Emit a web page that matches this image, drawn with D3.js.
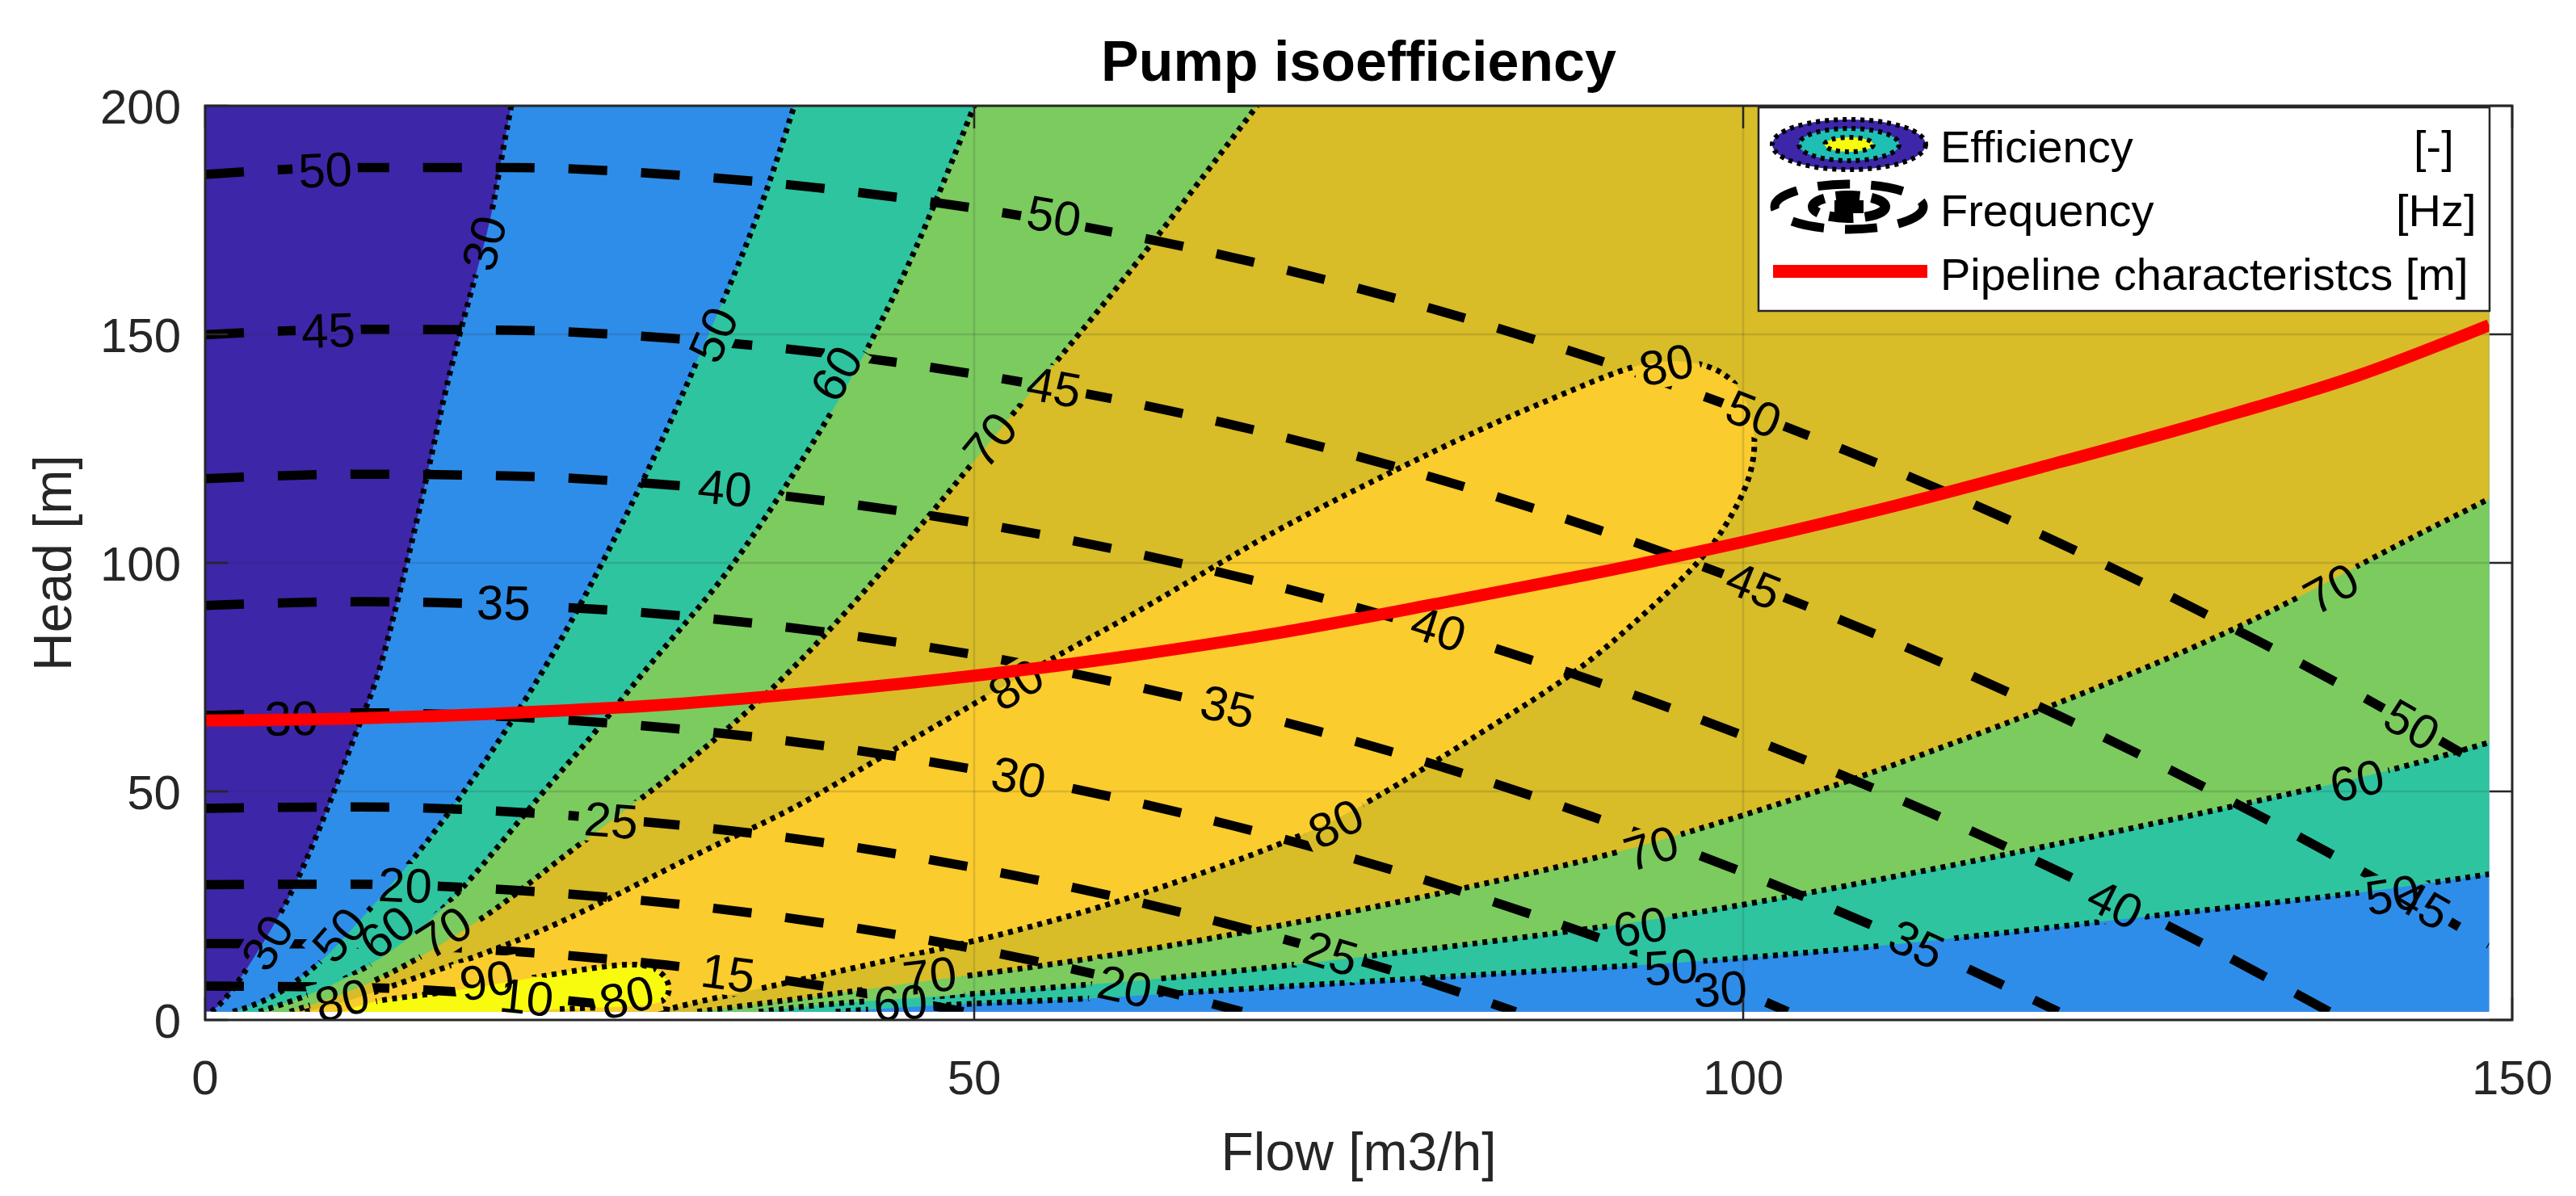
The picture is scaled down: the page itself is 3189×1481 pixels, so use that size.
<!DOCTYPE html>
<html>
<head>
<meta charset="utf-8">
<script src="https://cdn.jsdelivr.net/npm/d3@7"></script>
<style>
  body { margin: 0; background: #fff; }
  svg text { font-family: "Liberation Sans", Arial, Helvetica, sans-serif; }
</style>
</head>
<body>
<div id="chart"></div>
<script>
// ---- Datos: [caudal m3/h, altura m] ----

// Curvas de frecuencia (Hz)
const hz50 = [[0,185],[10,186.5],[20,186.5],[30,185],[40,182],[50,177.6],[60,171.7],[70,164.3],[80,155.4],[90,145],[100,133.3],[110,120],[120,105.2],[130,88.9],[140,71.2],[148.5,54.9]];
const hz45 = [[0,149.9],[10,151.1],[20,150.9],[30,149.2],[40,146],[50,141.3],[60,135.2],[70,127.6],[80,118.5],[90,107.9],[100,95.9],[110,82.4],[120,67.4],[130,50.9],[140,33],[148.5,16.5]];
const hz40 = [[0,118.4],[10,119.4],[20,119],[30,117.1],[40,113.7],[50,108.8],[60,102.4],[70,94.6],[80,85.3],[90,74.5],[100,62.2],[110,48.5],[120,33.3],[130,16.5],[138.1,1.8]];
const hz35 = [[0,90.7],[10,91.5],[20,90.8],[30,88.7],[40,85],[50,79.9],[60,73.3],[70,65.3],[80,55.8],[90,44.7],[100,32.3],[110,18.3],[120.5,1.8]];
const hz30 = [[0,66.6],[10,67.2],[20,66.3],[30,63.9],[40,60.1],[50,54.8],[60,48],[70,39.7],[80,29.9],[90,18.7],[100,6],[102.9,1.8]];
const hz25 = [[0,46.3],[10,46.6],[20,45.5],[30,42.9],[40,38.9],[50,33.3],[60,26.3],[70,17.8],[80,7.8],[85.2,1.8]];
const hz20 = [[0,29.6],[10,29.7],[20,28.4],[30,25.6],[40,21.3],[50,15.6],[60,8.3],[67.4,1.8]];
const hz15 = [[0,16.7],[10,16.6],[20,15],[30,12],[40,7.5],[49.3,1.8]];
const hz10 = [[0,7.4],[10,7.1],[20,5.3],[30.2,1.8]];

// Isolíneas de eficiencia (rama izquierda, de abajo hacia arriba)
const eff30L = [[0.4,1.8],[1.2,4],[2.4,9.5],[3.8,17],[5.45,26.4],[7,38.2],[8.4,50],[9.8,63],[11.2,74.2],[12.2,87.7],[13,98.2],[14.5,119.9],[15.5,136.1],[16.5,149.6],[17.6,163.1],[18.6,175.3],[19.2,187.5],[19.9,200]];
const eff50L = [[1.8,1.8],[4.1,4.1],[7.4,11.7],[10.5,23.5],[13.9,36.4],[17,50.6],[19.6,63.5],[22.3,78],[25,94.5],[27.7,112.5],[30.3,131],[32.6,149],[34.8,166],[36.7,183],[38.3,200]];
const eff60L = [[3.5,1.8],[6.5,5],[9.5,9.5],[12,14.7],[15,22.3],[18.3,34.7],[21.8,49.4],[25.3,62.5],[28.2,75],[31.4,87.5],[34.3,99],[38.5,120.5],[42.5,142.8],[45.5,163.1],[47.8,181.4],[50,200]];
const eff70L = [[5.5,1.8],[9,5.5],[13,11.5],[17.2,20.5],[19.4,25.3],[23.7,37],[28.8,49.4],[32.5,59.5],[36.2,70.1],[40,83],[43.6,96.5],[47.7,112.8],[51.7,129.3],[55.7,145.5],[59.7,161.8],[64.1,181],[68.3,199.6],[68.4,200]];
// Isolínea 80 (cerrada contra el fondo) y 90
const eff80 = [[6.5,1.8],[9.3,4],[13.3,8.8],[17.6,13.8],[22.7,20.5],[28,29.5],[33.8,39.4],[38,45.5],[43.9,57.5],[49.7,68.5],[54.7,78.5],[60,88],[65.5,99],[69.8,107.5],[76.5,118.9],[83.2,129.8],[88,136.5],[92.3,142.7],[95,144.6],[97.9,143.5],[99.9,138.8],[100.9,129.3],[100.6,119.2],[99.3,110.4],[97.4,100.5],[93.2,87.7],[89.3,76.1],[83.2,63.4],[75.5,47],[70.5,38.9],[61.1,27.6],[55,21.5],[50,17.2],[45,13.5],[40.1,9.8],[36,6.8],[32,4],[29.5,1.8]];
const eff90 = [[9,1.8],[10.7,4.1],[13.5,5.2],[16.3,6.4],[19,7.9],[21.6,9.4],[25,11.3],[28.1,12.6],[29.6,11],[30.3,7.5],[30,4],[28.5,2.9],[24,2.6],[20,1.8]];
// Isolíneas de eficiencia (rama derecha, desde el fondo hacia el borde derecho)
const eff70R = [[32,1.8],[36,3.5],[40,5.3],[44,7.2],[47,8.6],[50,9.8],[59.8,14.4],[69.8,20.5],[79.9,27.3],[91.6,36.1],[99.6,44.3],[107.3,52.6],[119.7,68],[132.5,85.7],[140.9,101.2],[148.5,114]];
const eff60R = [[36,1.8],[40,3.4],[45,4.6],[49.7,5.6],[57.6,7.8],[63.1,9.2],[76.5,14.2],[90,19.8],[99.6,24.7],[117.7,36.4],[132.5,47.2],[141.5,53.9],[148.5,60.7]];
const eff50R = [[41,1.8],[45,2.7],[49.7,3.6],[57.6,4.6],[63.1,5.9],[76.5,8.6],[93.3,12],[99.6,13.3],[113,17.4],[126.4,22.8],[139.9,27.5],[148.5,31.9]];

// Característica de la tubería
const pipeFlow = [0,10,20,30,40,50,60,70,80,90,100,110,120,130,140,148.5];
const pipeHead = [65.5,66,67.2,69,71.8,75.3,79.6,84.8,91,97.5,104.6,112.6,121.5,130.8,141,152];

// Ticks
const xTicks = [0,50,100,150];
const yTicks = [0,50,100,150,200];

// Etiquetas de las curvas: [frecuencia, caudal, altura]
const hzLabels = [
  [50,7.8,186.1],[50,55.2,176],[50,100.7,132.7],[50,143.5,64.7],
  [45,8,151],[45,55.2,138.6],[45,100.7,95.2],[45,144.2,25.5],
  [40,33.8,116.5],[40,80.2,85.7],[40,124.2,25.5],
  [35,19.4,91.4],[35,66.5,68.7],[35,111.3,16.7],
  [30,5.6,66.1],[30,52.9,53.2],
  [25,26.4,43.8],[25,73.2,14.7],
  [20,13,29.6],[20,59.8,7.5],
  [15,34,10.4],
  [10,20.9,5.1]
];
// Etiquetas de eficiencia: [texto, isolínea, caudal, altura]
const effLabels = [
  ["30","e30L",18.1,170],["50","e50L",33,150],["60","e60L",41,141.5],["70","e70L",51,127],
  ["80","e80",95,143.5],["80","e80",52.7,73.5],["80","e80",73.5,43.1],["80","e80",27.4,5.1],["80","e80",8.9,4.5],
  ["90","e90",18.3,8.8],
  ["30","e30L",4,17],["50","e50L",8.7,18.7],["60","e60L",11.8,19.3],["70","e70L",15.5,19.3],
  ["70","e70R",47.1,9.8],["60","e60R",45.2,3.9],
  ["70","e70R",94,37.7],["60","e60R",93.3,20.5],["50","e50R",95.3,11.7],["30","e50R",98.5,6.9],
  ["70","e70R",138.2,94.5],["60","e60R",139.9,52.5],["50","e50R",142.2,27.5]
];

// ---- Dibujo ----
const width = 3189, height = 1481;
const qMaxData = 148.5, hMinData = 1.8;

const svg = d3.select("#chart").append("svg")
    .attr("width", width)
    .attr("height", height);

const x = d3.scaleLinear().domain([0, 150]).range([254, 3110]);
const y = d3.scaleLinear().domain([0, 200]).range([1263, 131]);

const defs = svg.append("defs");
defs.append("clipPath").attr("id", "dataClip")
  .append("rect")
    .attr("x", x(0)).attr("y", y(200))
    .attr("width", x(qMaxData) - x(0))
    .attr("height", y(hMinData) - y(200));

const smooth = d3.line()
    .x(d => x(d[0])).y(d => y(d[1]))
    .curve(d3.curveBasis);

// Mapas de líneas
const effLines = { e30L: eff30L, e50L: eff50L, e60L: eff60L, e70L: eff70L, e80: eff80, e90: eff90, e70R: eff70R, e60R: eff60R, e50R: eff50R };
const hzLines = [[10,hz10],[15,hz15],[20,hz20],[25,hz25],[30,hz30],[35,hz35],[40,hz40],[45,hz45],[50,hz50]];

// Colores (parula)
const baseColor = "#3e26a8";
const levelColor = { 30: "#2e8de9", 50: "#2ec4a0", 60: "#7bcb5f", 70: "#d8bc28", 80: "#fbcc2d", 90: "#f9fb0e" };

function regionPath(left, right) {
  const first = left[0];
  let p = smooth(left);
  if (right) {
    const end = right[right.length - 1];
    p += `L${x(160)},${y(215)}L${x(160)},${y(end[1])}`;
    p += smooth(right.slice().reverse()).replace(/^M/, "L");
    p += `L${x(right[0][0])},${y(-10)}L${x(first[0])},${y(-10)}Z`;
  } else {
    p += `L${x(160)},${y(215)}L${x(160)},${y(-10)}L${x(first[0])},${y(-10)}Z`;
  }
  return p;
}
function loopPath(loop) {
  const a = loop[0], b = loop[loop.length - 1];
  return smooth(loop) + `L${x(b[0])},${y(-10)}L${x(a[0])},${y(-10)}Z`;
}

const regions = [
  { level: 30, d: regionPath(eff30L, null) },
  { level: 50, d: regionPath(eff50L, eff50R) },
  { level: 60, d: regionPath(eff60L, eff60R) },
  { level: 70, d: regionPath(eff70L, eff70R) },
  { level: 80, d: loopPath(eff80) },
  { level: 90, d: loopPath(eff90) }
];

// Relleno de contornos
const fillG = svg.append("g").attr("clip-path", "url(#dataClip)");
fillG.append("rect")
    .attr("x", x(0)).attr("y", y(200))
    .attr("width", x(qMaxData) - x(0)).attr("height", y(hMinData) - y(200))
    .attr("fill", baseColor);
fillG.selectAll("path.region")
  .data(regions)
  .enter().append("path")
    .attr("class", "region")
    .attr("d", d => d.d)
    .attr("fill", d => levelColor[d.level]);

// Rejilla
const gridG = svg.append("g").attr("stroke", "#262626").attr("stroke-opacity", 0.15).attr("stroke-width", 2.5);
xTicks.slice(1, -1).forEach(t => gridG.append("line").attr("x1", x(t)).attr("x2", x(t)).attr("y1", y(0)).attr("y2", y(200)));
yTicks.slice(1, -1).forEach(t => gridG.append("line").attr("x1", x(0)).attr("x2", x(150)).attr("y1", y(t)).attr("y2", y(t)));

// Ángulo local de la línea para rotar la etiqueta
function labelAngle(pts, q, h) {
  const px = x(q), py = y(h);
  let best = Infinity, ang = 0;
  for (let i = 0; i < pts.length - 1; i++) {
    const x1 = x(pts[i][0]), y1 = y(pts[i][1]), x2 = x(pts[i + 1][0]), y2 = y(pts[i + 1][1]);
    const dx = x2 - x1, dy = y2 - y1, L2 = dx * dx + dy * dy;
    let t = L2 ? ((px - x1) * dx + (py - y1) * dy) / L2 : 0;
    t = Math.max(0, Math.min(1, t));
    const cx = x1 + t * dx, cy = y1 + t * dy;
    const dist = (px - cx) ** 2 + (py - cy) ** 2;
    if (dist < best) { best = dist; ang = Math.atan2(dy, dx) * 180 / Math.PI; }
  }
  if (ang > 90) ang -= 180;
  if (ang < -90) ang += 180;
  return ang;
}

const hzMap = {};
hzLines.forEach(([f, pts]) => hzMap[f] = pts);
const allLabels = hzLabels.map(d => ({ text: String(d[0]), pts: hzMap[d[0]], q: d[1], h: d[2] }))
  .concat(effLabels.map(d => ({ text: d[0], pts: effLines[d[1]], q: d[2], h: d[3] })));
allLabels.forEach(d => d.angle = labelAngle(d.pts, d.q, d.h));

// Máscara para cortar las líneas bajo las etiquetas
const mask = defs.append("mask").attr("id", "gapMask")
    .attr("maskUnits", "userSpaceOnUse")
    .attr("x", 0).attr("y", 0).attr("width", width).attr("height", height);
mask.append("rect").attr("x", 0).attr("y", 0).attr("width", width).attr("height", height).attr("fill", "#fff");

// Líneas de contorno
const linesOuter = svg.append("g").attr("clip-path", "url(#dataClip)");
const linesG = linesOuter.append("g").attr("mask", "url(#gapMask)");

linesG.selectAll("path.eff")
  .data(Object.values(effLines))
  .enter().append("path")
    .attr("class", "eff")
    .attr("d", d => smooth(d))
    .attr("fill", "none")
    .attr("stroke", "#000")
    .attr("stroke-width", 7)
    .attr("stroke-dasharray", "6 6.5");

const hzCurve = d3.line().x(d => x(d[0])).y(d => y(d[1])).curve(d3.curveMonotoneX);
linesG.selectAll("path.hz")
  .data(hzLines)
  .enter().append("path")
    .attr("class", "hz")
    .attr("d", d => hzCurve(d[1]))
    .attr("fill", "none")
    .attr("stroke", "#000")
    .attr("stroke-width", 11.5)
    .attr("stroke-dasharray", "48 42");

// Etiquetas de contorno
const labelG = svg.append("g");
labelG.selectAll("text")
  .data(allLabels)
  .enter().append("text")
    .attr("transform", d => `translate(${x(d.q)},${y(d.h)}) rotate(${d.angle})`)
    .attr("text-anchor", "middle")
    .attr("dy", "0.36em")
    .attr("font-size", 60)
    .attr("fill", "#000")
    .text(d => d.text)
    .each(function (d) {
      const bb = this.getBBox();
      mask.append("rect")
        .attr("transform", `translate(${x(d.q)},${y(d.h)}) rotate(${d.angle})`)
        .attr("x", bb.x - 7).attr("y", bb.y + bb.height * 0.1)
        .attr("width", bb.width + 14).attr("height", bb.height * 0.8)
        .attr("fill", "#000");
    });

// Característica de la tubería
const pipeData = pipeFlow.map((q, i) => [q, pipeHead[i]]);
svg.append("g").attr("clip-path", "url(#dataClip)")
  .append("path")
    .attr("d", hzCurve(pipeData))
    .attr("fill", "none")
    .attr("stroke", "#ff0000")
    .attr("stroke-width", 15);

// Ejes: caja, ticks y textos
const axisColor = "#262626";
svg.append("rect")
    .attr("x", x(0)).attr("y", y(200))
    .attr("width", x(150) - x(0)).attr("height", y(0) - y(200))
    .attr("fill", "none").attr("stroke", axisColor).attr("stroke-width", 3);

const tickLen = 28;
const tickG = svg.append("g").attr("stroke", axisColor).attr("stroke-width", 2.5);
xTicks.forEach(t => {
  tickG.append("line").attr("x1", x(t)).attr("x2", x(t)).attr("y1", y(0)).attr("y2", y(0) - tickLen);
  tickG.append("line").attr("x1", x(t)).attr("x2", x(t)).attr("y1", y(200)).attr("y2", y(200) + tickLen);
});
yTicks.forEach(t => {
  tickG.append("line").attr("x1", x(0)).attr("x2", x(0) + tickLen).attr("y1", y(t)).attr("y2", y(t));
  tickG.append("line").attr("x1", x(150)).attr("x2", x(150) - tickLen).attr("y1", y(t)).attr("y2", y(t));
});

svg.append("g").selectAll("text")
  .data(xTicks).enter().append("text")
    .attr("x", d => x(d)).attr("y", 1355)
    .attr("text-anchor", "middle")
    .attr("font-size", 60).attr("fill", axisColor)
    .text(d => d);
svg.append("g").selectAll("text")
  .data(yTicks).enter().append("text")
    .attr("x", 224).attr("y", d => y(d) + 22)
    .attr("text-anchor", "end")
    .attr("font-size", 60).attr("fill", axisColor)
    .text(d => d);

svg.append("text")
    .attr("x", (x(0) + x(150)) / 2).attr("y", 100)
    .attr("text-anchor", "middle")
    .attr("font-size", 70).attr("font-weight", "bold").attr("fill", "#000")
    .text("Pump isoefficiency");
svg.append("text")
    .attr("x", (x(0) + x(150)) / 2).attr("y", 1449)
    .attr("text-anchor", "middle")
    .attr("font-size", 66).attr("fill", axisColor)
    .text("Flow [m3/h]");
svg.append("text")
    .attr("transform", `translate(88,${(y(0) + y(200)) / 2}) rotate(-90)`)
    .attr("text-anchor", "middle")
    .attr("font-size", 66).attr("fill", axisColor)
    .text("Head [m]");

// Leyenda
const legend = svg.append("g");
legend.append("rect")
    .attr("x", 2177).attr("y", 133).attr("width", 905).attr("height", 252)
    .attr("fill", "#fff").attr("stroke", axisColor).attr("stroke-width", 2.5);

// icono eficiencia
const effIcon = legend.append("g").attr("transform", "translate(2289,179)");
[[95, 31, "#3e26a8"], [62, 20, "#1fbfb5"], [30, 9, "#f9fb0e"]].forEach(([rx, ry, c]) => {
  effIcon.append("ellipse").attr("rx", rx).attr("ry", ry).attr("fill", c)
    .attr("stroke", "#000").attr("stroke-width", 6).attr("stroke-dasharray", "5 6");
});
// icono frecuencia
const hzIcon = legend.append("g").attr("transform", "translate(2289,256)");
hzIcon.append("ellipse").attr("rx", 92).attr("ry", 28).attr("fill", "none")
  .attr("stroke", "#000").attr("stroke-width", 11).attr("stroke-dasharray", "40 26");
hzIcon.append("ellipse").attr("rx", 45).attr("ry", 14).attr("fill", "none")
  .attr("stroke", "#000").attr("stroke-width", 12).attr("stroke-dasharray", "30 14");
hzIcon.append("rect").attr("x", -18).attr("y", -8).attr("width", 36).attr("height", 16).attr("fill", "#000");
// icono tubería
legend.append("line")
    .attr("x1", 2195).attr("x2", 2386).attr("y1", 336).attr("y2", 336)
    .attr("stroke", "#ff0000").attr("stroke-width", 16);

const legendRows = [
  { name: "Efficiency", unit: "[-]", y: 201, ux: 2988 },
  { name: "Frequency", unit: "[Hz]", y: 280, ux: 2966 },
  { name: "Pipeline characteristcs [m]", unit: "", y: 359, ux: 0 }
];
legendRows.forEach(r => {
  legend.append("text").attr("x", 2402).attr("y", r.y)
    .attr("font-size", 56).attr("fill", "#000").text(r.name);
  if (r.unit) legend.append("text").attr("x", r.ux).attr("y", r.y)
    .attr("font-size", 56).attr("fill", "#000").text(r.unit);
});
</script>
</body>
</html>
